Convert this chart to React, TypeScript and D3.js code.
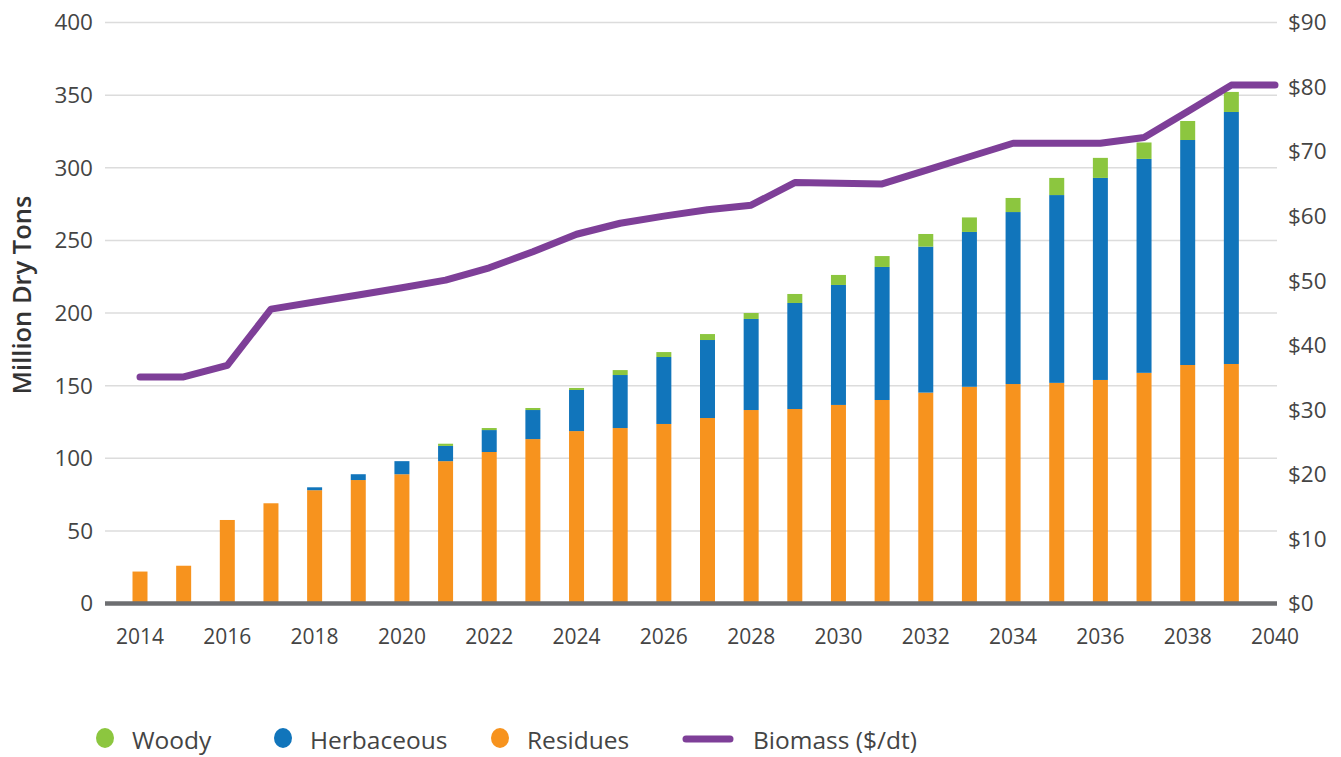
import React, { useEffect, useRef } from "react";
import * as d3 from "d3";

const years = [2014, 2015, 2016, 2017, 2018, 2019, 2020, 2021, 2022, 2023, 2024, 2025, 2026,
  2027, 2028, 2029, 2030, 2031, 2032, 2033, 2034, 2035, 2036, 2037, 2038, 2039];
const residues = [22, 26, 57.5, 69, 78, 85, 89, 98, 104.3, 113.2, 118.7, 120.8, 123.6,
  127.7, 133.2, 133.9, 136.7, 140.1, 145.2, 149.2, 151.1, 151.9, 153.9, 158.8, 164.2, 164.9];
const herbaceous = [0, 0, 0, 0, 2, 4, 9, 10.5, 15.1, 20, 28.3, 36.5, 46.1,
  53.7, 62.7, 73, 82.6, 91.6, 100.5, 106.6, 118.4, 129.3, 139.1, 147.3, 154.9, 173.5];
const woody = [0, 0, 0, 0, 0, 0, 0, 1.5, 1.4, 1.4, 1.4, 3.4, 3.4,
  4.1, 4.1, 6.2, 6.9, 7.5, 8.7, 10, 9.7, 11.8, 13.8, 11.3, 13.1, 13.8];

const priceYears = [2014, 2015, 2016, 2017, 2018, 2019, 2020, 2021, 2022, 2023, 2024, 2025, 2026,
  2027, 2028, 2029, 2030, 2031, 2032, 2033, 2034, 2035, 2036, 2037, 2038, 2039, 2040];
const biomassPrice = [35.1, 35.1, 36.9, 45.6, 46.7, 47.8, 48.9, 50.1, 52.0, 54.5, 57.2, 58.9, 60.0,
  61.0, 61.7, 65.2, 65.1, 65.0, 67.1, 69.2, 71.3, 71.3, 71.3, 72.2, 76.2, 80.3, 80.3];

const xTickYears = [2014, 2016, 2018, 2020, 2022, 2024, 2026, 2028, 2030, 2032, 2034, 2036, 2038, 2040];
const leftTicks = [0, 50, 100, 150, 200, 250, 300, 350, 400];
const rightTicks = [0, 10, 20, 30, 40, 50, 60, 70, 80, 90];

const seriesKeys = ["residues", "herbaceous", "woody"];
const colors: Record<string, string> = {
  woody: "#8CC63F",
  herbaceous: "#1175BB",
  residues: "#F7931E",
  biomass: "#7E3F98",
};
const legendItems = [
  { key: "woody", label: "Woody" },
  { key: "herbaceous", label: "Herbaceous" },
  { key: "residues", label: "Residues" },
  { key: "biomass", label: "Biomass ($/dt)" },
];

const FONT = "'Open Sans', 'DejaVu Sans', sans-serif";

export default function App() {
  const ref = useRef<SVGSVGElement | null>(null);

  useEffect(() => {
    const svg = d3.select(ref.current);
    svg.selectAll("*").remove();

    const plotLeft = 105;
    const plotRight = 1277;

    const x = d3.scaleLinear().domain([2014, 2040]).range([140, 1275]);
    const yLeft = d3.scaleLinear().domain([0, 400]).range([603.5, 22.5]);
    const yRight = d3.scaleLinear().domain([0, 90]).range([603.5, 22.5]);

    // gridlines
    svg.append("g")
      .selectAll("line")
      .data(leftTicks.filter(d => d > 0))
      .join("line")
      .attr("x1", plotLeft)
      .attr("x2", plotRight)
      .attr("y1", d => yLeft(d))
      .attr("y2", d => yLeft(d))
      .attr("stroke", "#dcdcdc")
      .attr("stroke-width", 1.5);

    // stacked bars
    const table = years.map((yr, i) => ({
      year: yr,
      residues: residues[i],
      herbaceous: herbaceous[i],
      woody: woody[i],
    }));
    const stacked = d3.stack<any>().keys(seriesKeys)(table);
    const barW = 15;

    svg.append("g")
      .selectAll("g")
      .data(stacked)
      .join("g")
      .attr("fill", d => colors[d.key])
      .selectAll("rect")
      .data(d => d)
      .join("rect")
      .attr("x", d => x(d.data.year) - barW / 2)
      .attr("y", d => yLeft(d[1]))
      .attr("width", barW)
      .attr("height", d => Math.max(0, yLeft(d[0]) - yLeft(d[1])));

    // zero axis line
    svg.append("line")
      .attr("x1", plotLeft)
      .attr("x2", plotRight)
      .attr("y1", yLeft(0))
      .attr("y2", yLeft(0))
      .attr("stroke", "#6D6E71")
      .attr("stroke-width", 4.5);

    // price line
    const line = d3.line<number>()
      .x((_, i) => x(priceYears[i]))
      .y(d => yRight(d));
    svg.append("path")
      .datum(biomassPrice)
      .attr("d", line)
      .attr("fill", "none")
      .attr("stroke", colors.biomass)
      .attr("stroke-width", 7)
      .attr("stroke-linejoin", "round")
      .attr("stroke-linecap", "round");

    // left ticks
    svg.append("g")
      .selectAll("text")
      .data(leftTicks)
      .join("text")
      .attr("x", 93)
      .attr("y", d => yLeft(d))
      .attr("dy", "0.35em")
      .attr("text-anchor", "end")
      .attr("font-family", FONT)
      .attr("font-size", 22.5)
      .attr("fill", "#444")
      .text(d => d);

    // right ticks
    svg.append("g")
      .selectAll("text")
      .data(rightTicks)
      .join("text")
      .attr("x", 1288)
      .attr("y", d => yRight(d))
      .attr("dy", "0.35em")
      .attr("text-anchor", "start")
      .attr("font-family", FONT)
      .attr("font-size", 22.5)
      .attr("fill", "#444")
      .text(d => "$" + d);

    // x ticks
    svg.append("g")
      .selectAll("text")
      .data(xTickYears)
      .join("text")
      .attr("x", d => x(d))
      .attr("y", 637)
      .attr("dy", "0.35em")
      .attr("text-anchor", "middle")
      .attr("font-family", FONT)
      .attr("font-size", 21)
      .attr("fill", "#444")
      .text(d => d);

    // y title
    svg.append("text")
      .attr("transform", "translate(22,295) rotate(-90)")
      .attr("dy", "0.35em")
      .attr("text-anchor", "middle")
      .attr("font-family", FONT)
      .attr("font-size", 25.5)
      .attr("font-weight", 600)
      .attr("fill", "#333")
      .text("Million Dry Tons");

    // legend
    const legendX = [105, 283, 500, 682];
    const lg = svg.append("g");
    legendItems.forEach((item, i) => {
      const lx = legendX[i];
      if (item.key === "biomass") {
        lg.append("line")
          .attr("x1", lx + 4)
          .attr("x2", lx + 48)
          .attr("y1", 739)
          .attr("y2", 739)
          .attr("stroke", colors.biomass)
          .attr("stroke-width", 7)
          .attr("stroke-linecap", "round");
        lg.append("text")
          .attr("x", 753)
          .attr("y", 740)
          .attr("dy", "0.35em")
          .attr("font-family", FONT)
          .attr("font-size", 24.5)
          .attr("fill", "#444")
          .text(item.label);
      } else {
        lg.append("ellipse")
          .attr("cx", lx)
          .attr("cy", 738)
          .attr("rx", 9)
          .attr("ry", 10)
          .attr("fill", colors[item.key]);
        lg.append("text")
          .attr("x", lx + 27)
          .attr("y", 740)
          .attr("dy", "0.35em")
          .attr("font-family", FONT)
          .attr("font-size", 24.5)
          .attr("fill", "#444")
          .text(item.label);
      }
    });
  }, []);

  return (
    <svg
      ref={ref}
      width={1341}
      height={757}
      style={{ position: "absolute", left: 0, top: 0, background: "#fff" }}
    />
  );
}
